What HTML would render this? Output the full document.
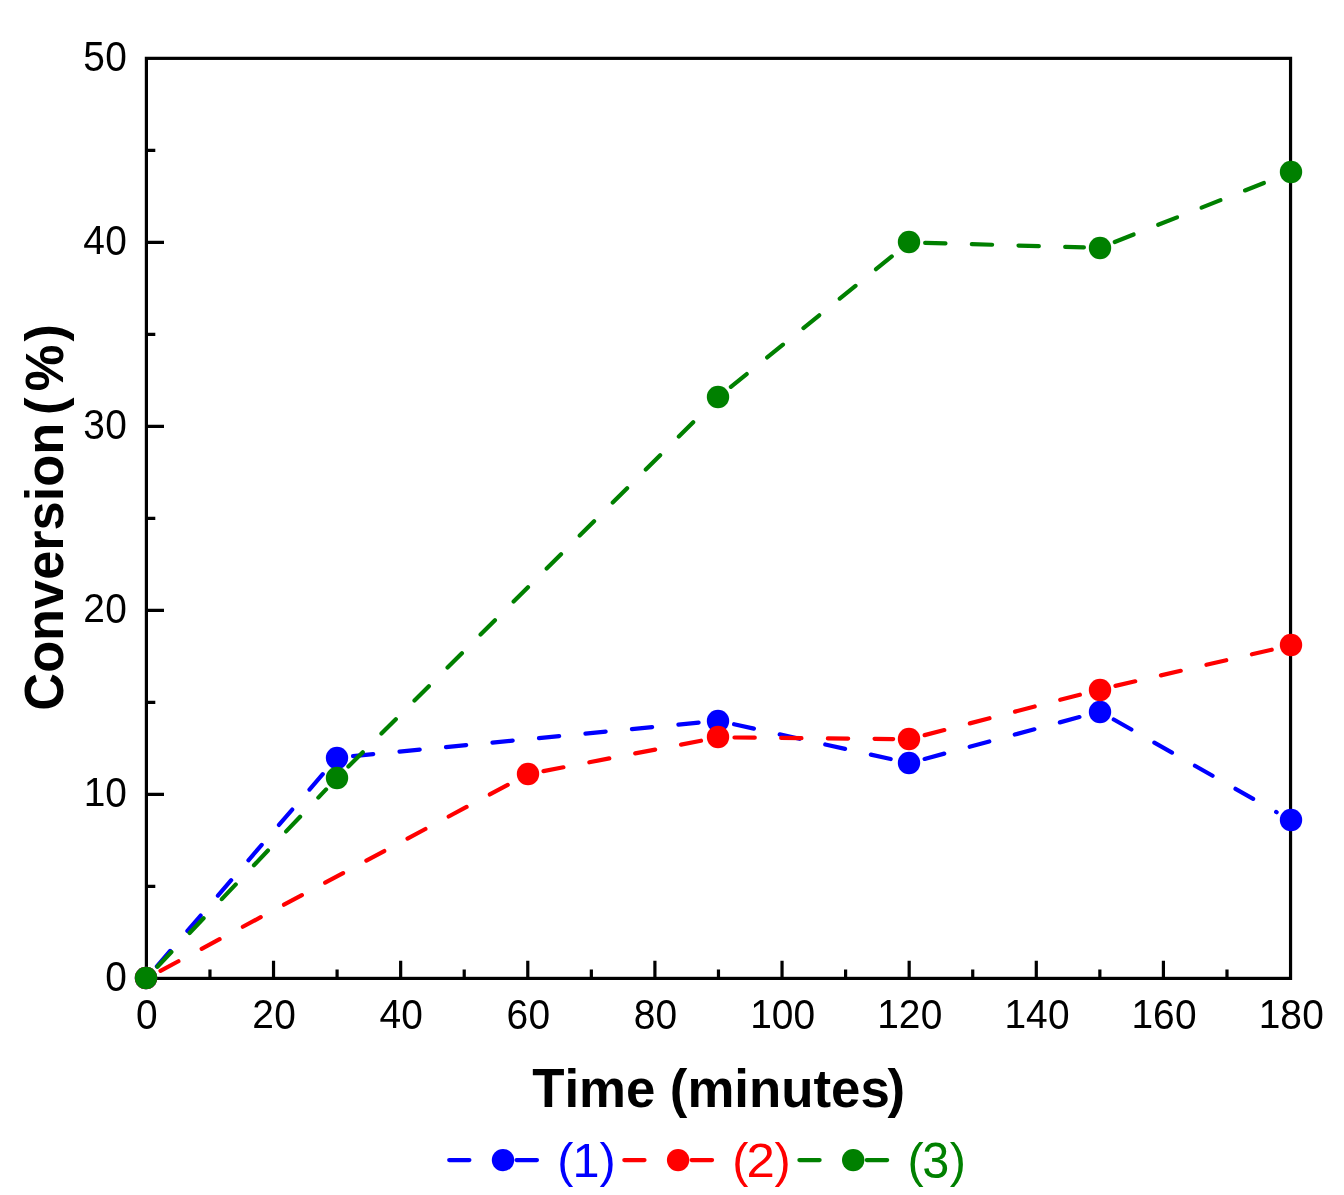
<!DOCTYPE html><html><head><meta charset="utf-8"><title>chart</title><style>html,body{margin:0;padding:0;background:#fff}svg{display:block;will-change:transform}text{font-family:"Liberation Sans",sans-serif}</style></head><body>
<svg width="1344" height="1195" viewBox="0 0 1344 1195">
<rect x="0" y="0" width="1344" height="1195" fill="#ffffff"/>
<rect x="146.4" y="58.35" width="1144.15" height="920.05" fill="none" stroke="#000" stroke-width="3.2"/>
<path d="M209.96 978.4V969.50M273.53 978.4V960.80M337.09 978.4V969.50M400.66 978.4V960.80M464.22 978.4V969.50M527.78 978.4V960.80M591.35 978.4V969.50M654.91 978.4V960.80M718.47 978.4V969.50M782.04 978.4V960.80M845.60 978.4V969.50M909.17 978.4V960.80M972.73 978.4V969.50M1036.29 978.4V960.80M1099.86 978.4V969.50M1163.42 978.4V960.80M1226.99 978.4V969.50M146.4 886.39H155.30M146.4 794.39H164.00M146.4 702.38H155.30M146.4 610.38H164.00M146.4 518.38H155.30M146.4 426.37H164.00M146.4 334.37H155.30M146.4 242.36H164.00M146.4 150.36H155.30" stroke="#000" stroke-width="3.2" fill="none"/>
<g fill="#000">
<text transform="translate(136.08 1028.60) scale(1 1.075)" font-size="38.9" stroke="none">0</text>
<text transform="translate(252.26 1027.90) scale(1 1.035)" font-size="38.9" stroke="none">2</text>
<text transform="translate(274.16 1028.60) scale(1 1.075)" font-size="38.9" stroke="none">0</text>
<text transform="translate(379.39 1027.90) scale(1 1.035)" font-size="38.9" stroke="none">4</text>
<text transform="translate(401.29 1028.60) scale(1 1.075)" font-size="38.9" stroke="none">0</text>
<text transform="translate(506.52 1028.60) scale(1 1.075)" font-size="38.9" stroke="none">6</text>
<text transform="translate(528.42 1028.60) scale(1 1.075)" font-size="38.9" stroke="none">0</text>
<text transform="translate(633.64 1028.60) scale(1 1.075)" font-size="38.9" stroke="none">8</text>
<text transform="translate(655.54 1028.60) scale(1 1.075)" font-size="38.9" stroke="none">0</text>
<text transform="translate(750.19 1027.90) scale(1 1.035)" font-size="38.9" stroke="none">1</text>
<text transform="translate(771.72 1028.60) scale(1 1.075)" font-size="38.9" stroke="none">0</text>
<text transform="translate(793.62 1028.60) scale(1 1.075)" font-size="38.9" stroke="none">0</text>
<text transform="translate(877.32 1027.90) scale(1 1.035)" font-size="38.9" stroke="none">1</text>
<text transform="translate(898.85 1027.90) scale(1 1.035)" font-size="38.9" stroke="none">2</text>
<text transform="translate(920.75 1028.60) scale(1 1.075)" font-size="38.9" stroke="none">0</text>
<text transform="translate(1004.44 1027.90) scale(1 1.035)" font-size="38.9" stroke="none">1</text>
<text transform="translate(1025.98 1027.90) scale(1 1.035)" font-size="38.9" stroke="none">4</text>
<text transform="translate(1047.88 1028.60) scale(1 1.075)" font-size="38.9" stroke="none">0</text>
<text transform="translate(1131.57 1027.90) scale(1 1.035)" font-size="38.9" stroke="none">1</text>
<text transform="translate(1153.11 1028.60) scale(1 1.075)" font-size="38.9" stroke="none">6</text>
<text transform="translate(1175.01 1028.60) scale(1 1.075)" font-size="38.9" stroke="none">0</text>
<text transform="translate(1258.70 1027.90) scale(1 1.035)" font-size="38.9" stroke="none">1</text>
<text transform="translate(1280.23 1028.60) scale(1 1.075)" font-size="38.9" stroke="none">8</text>
<text transform="translate(1302.13 1028.60) scale(1 1.075)" font-size="38.9" stroke="none">0</text>
<text transform="translate(105.23 990.75) scale(1 1.075)" font-size="38.9" stroke="none">0</text>
<text transform="translate(83.70 806.04) scale(1 1.035)" font-size="38.9" stroke="none">1</text>
<text transform="translate(105.23 806.74) scale(1 1.075)" font-size="38.9" stroke="none">0</text>
<text transform="translate(83.33 622.03) scale(1 1.035)" font-size="38.9" stroke="none">2</text>
<text transform="translate(105.23 622.73) scale(1 1.075)" font-size="38.9" stroke="none">0</text>
<text transform="translate(83.33 438.72) scale(1 1.075)" font-size="38.9" stroke="none">3</text>
<text transform="translate(105.23 438.72) scale(1 1.075)" font-size="38.9" stroke="none">0</text>
<text transform="translate(83.33 254.01) scale(1 1.035)" font-size="38.9" stroke="none">4</text>
<text transform="translate(105.23 254.71) scale(1 1.075)" font-size="38.9" stroke="none">0</text>
<text transform="translate(83.33 70.70) scale(1 1.075)" font-size="38.9" stroke="none">5</text>
<text transform="translate(105.23 70.70) scale(1 1.075)" font-size="38.9" stroke="none">0</text>
</g>
<g font-size="52.8" font-weight="bold"><text transform="translate(532.2 1107) scale(1 1.04)">T</text><text x="564.45" y="1107">ime</text><text x="669.8" y="1107">(</text><text x="687.4" y="1107">minutes</text><text x="887.5" y="1107">)</text></g>
<g transform="translate(63.4 422.87) rotate(-90) scale(0.991 1.017)" font-size="52.8" font-weight="bold" text-anchor="end"><text>onversion</text><text transform="translate(-252.32 0) scale(1 1.02)">C</text><text x="8" y="0" text-anchor="start">(</text><text x="32" y="0" text-anchor="start">%</text><text x="82" y="0" text-anchor="start">)</text></g>
<g stroke="#0000ff" fill="#0000ff" stroke-width="4.2" stroke-linecap="round">
<line x1="156.86" y1="966.29" x2="326.63" y2="769.70" stroke-dasharray="20.3 26.4"/>
<line x1="353.02" y1="756.05" x2="702.55" y2="722.32" stroke-dasharray="20.3 26.4"/>
<line x1="734.09" y1="724.25" x2="893.55" y2="759.64" stroke-dasharray="20.3 26.4"/>
<line x1="924.61" y1="758.93" x2="1084.41" y2="715.76" stroke-dasharray="20.3 26.4"/>
<line x1="1113.76" y1="719.50" x2="1276.65" y2="812.24" stroke-dasharray="20.3 26.4"/>
<circle cx="146" cy="978" r="11.2" stroke="none"/>
<circle cx="337" cy="758" r="11.2" stroke="none"/>
<circle cx="718" cy="721" r="11.2" stroke="none"/>
<circle cx="909" cy="763" r="11.2" stroke="none"/>
<circle cx="1100" cy="712" r="11.2" stroke="none"/>
<circle cx="1291" cy="820" r="11.2" stroke="none"/>
</g>
<g stroke="#ff0000" fill="#ff0000" stroke-width="4.2" stroke-linecap="round">
<line x1="160.50" y1="970.85" x2="513.68" y2="781.70" stroke-dasharray="20.3 26.4"/>
<line x1="543.49" y1="771.12" x2="702.76" y2="740.38" stroke-dasharray="20.3 26.4"/>
<line x1="734.47" y1="737.50" x2="893.17" y2="739.03" stroke-dasharray="20.3 26.4"/>
<line x1="924.65" y1="735.15" x2="1084.38" y2="693.54" stroke-dasharray="20.3 26.4"/>
<line x1="1115.45" y1="685.89" x2="1274.96" y2="648.95" stroke-dasharray="20.3 26.4"/>
<circle cx="146" cy="978" r="11.2" stroke="none"/>
<circle cx="528" cy="774" r="11.2" stroke="none"/>
<circle cx="718" cy="737" r="11.2" stroke="none"/>
<circle cx="909" cy="739" r="11.2" stroke="none"/>
<circle cx="1100" cy="690" r="11.2" stroke="none"/>
<circle cx="1291" cy="645" r="11.2" stroke="none"/>
</g>
<g stroke="#008000" fill="#008000" stroke-width="4.2" stroke-linecap="round">
<line x1="157.42" y1="966.80" x2="326.07" y2="789.42" stroke-dasharray="20.3 26.4"/>
<line x1="348.41" y1="766.52" x2="707.15" y2="408.23" stroke-dasharray="20.3 26.4"/>
<line x1="730.90" y1="386.85" x2="896.74" y2="252.44" stroke-dasharray="20.3 26.4"/>
<line x1="925.16" y1="242.82" x2="1083.87" y2="247.42" stroke-dasharray="20.3 26.4"/>
<line x1="1114.74" y1="241.99" x2="1275.67" y2="178.32" stroke-dasharray="20.3 26.4"/>
<circle cx="146" cy="978" r="11.2" stroke="none"/>
<circle cx="337" cy="778" r="11.2" stroke="none"/>
<circle cx="718" cy="397" r="11.2" stroke="none"/>
<circle cx="909" cy="242" r="11.2" stroke="none"/>
<circle cx="1100" cy="248" r="11.2" stroke="none"/>
<circle cx="1291" cy="172" r="11.2" stroke="none"/>
</g>
<g stroke="#0000ff" fill="#0000ff" stroke-width="4.2" stroke-linecap="round">
<line x1="449.20" y1="1160.1" x2="469.40" y2="1160.1"/>
<line x1="516.55" y1="1160.1" x2="536.95" y2="1160.1"/>
<circle cx="503.00" cy="1160.1" r="11.2" stroke="none"/>
<text x="557.2" y="1176.8" font-size="48.6" stroke="none">(</text>
<text x="572.43" y="1176.8" font-size="48.6" stroke="none">1</text>
<text x="599.5" y="1176.8" font-size="48.6" stroke="none">)</text>
</g>
<g stroke="#ff0000" fill="#ff0000" stroke-width="4.2" stroke-linecap="round">
<line x1="624.30" y1="1160.1" x2="644.50" y2="1160.1"/>
<line x1="691.65" y1="1160.1" x2="712.05" y2="1160.1"/>
<circle cx="678.10" cy="1160.1" r="11.2" stroke="none"/>
<text x="732.3" y="1176.8" font-size="48.6" stroke="none">(</text>
<text transform="translate(746.50 1176.8) scale(1.048 1.004)" font-size="48.6" stroke="none">2</text>
<text x="774.6" y="1176.8" font-size="48.6" stroke="none">)</text>
</g>
<g stroke="#008000" fill="#008000" stroke-width="4.2" stroke-linecap="round">
<line x1="799.40" y1="1160.1" x2="819.60" y2="1160.1"/>
<line x1="866.75" y1="1160.1" x2="887.15" y2="1160.1"/>
<circle cx="853.20" cy="1160.1" r="11.2" stroke="none"/>
<text x="907.4" y="1176.8" font-size="48.6" stroke="none">(</text>
<text transform="translate(922.30 1177.7) scale(1 1.047)" font-size="48.6" stroke="none">3</text>
<text x="949.7" y="1176.8" font-size="48.6" stroke="none">)</text>
</g>
</svg></body></html>
